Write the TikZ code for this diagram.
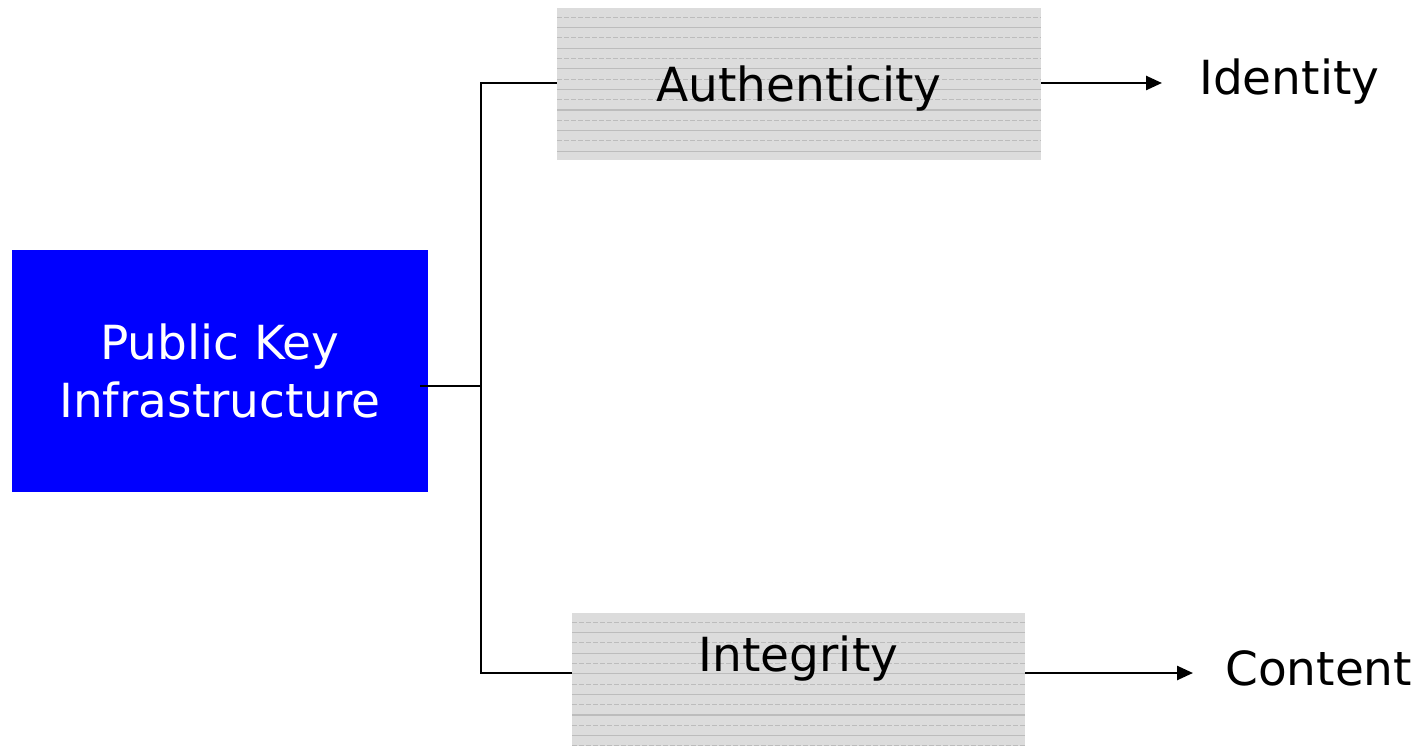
\documentclass[tikz,border=0pt]{standalone}
\usepackage{fontspec}
\setmainfont{DejaVu Sans}
\usetikzlibrary{arrows.meta}
\definecolor{boxgray}{HTML}{DCDCDC}
\definecolor{stripegray}{HTML}{BCBCBC}
\definecolor{pkiblue}{HTML}{0000FF}
\tikzset{
  bigfont/.style={font=\fontsize{47}{58}\selectfont},
  pkibox/.style={rectangle, fill=pkiblue, text=white, bigfont, align=center,
    inner sep=0pt, minimum width=416pt, minimum height=242pt},
  graybox/.style={rectangle, fill=boxgray, bigfont, inner sep=0pt,
    path picture={
      \foreach \i in {0,...,14}{
        \ifodd\i
          \draw[stripegray, line width=1.1pt]
            ([yshift=-9.3pt-\i*10.3pt]path picture bounding box.north west) --
            ([yshift=-9.3pt-\i*10.3pt]path picture bounding box.north east);
        \else
          \draw[stripegray, line width=1.1pt, dash pattern=on 5pt off 2pt]
            ([yshift=-9.3pt-\i*10.3pt]path picture bounding box.north west) --
            ([yshift=-9.3pt-\i*10.3pt]path picture bounding box.north east);
        \fi
      }
    }},
  plaintext/.style={bigfont, inner sep=0pt, anchor=base west},
  conn/.style={draw=black, line width=2.5pt},
  arr/.style={conn, -{Triangle[length=16pt,width=14pt]}}
}
\begin{document}
\begin{tikzpicture}[x=1pt,y=-1pt]
\useasboundingbox (0,0) rectangle (1425,746);
\node[pkibox] (pki) at (220,371) {Public Key\\Infrastructure};
\node[graybox, minimum width=484pt, minimum height=152pt, text depth=0pt] (auth) at (799,84) {Authenticity};
\node[graybox, minimum width=453pt, minimum height=133pt, text depth=51pt] (integ) at (798.5,679.5) {Integrity};
\node[plaintext] (identity) at (1199,95) {Identity};
\node[plaintext] (content) at (1225,685) {Content};
\coordinate (spine) at (481,386);
\coordinate (top) at (481,83);
\coordinate (bottom) at (481,673);
\coordinate (integin) at (572,673);
\draw[conn] ([xshift=-8pt]pki.east |- spine) -- (spine);
\draw[conn] (auth.west |- top) -- (top) -- (bottom) -- (integin);
\draw[arr, shorten >=37pt] (auth.east |- top) -- (identity.west |- top);
\draw[arr, shorten >=32pt] (integ.east |- integin) -- (content.west |- integin);
\end{tikzpicture}
\end{document}
